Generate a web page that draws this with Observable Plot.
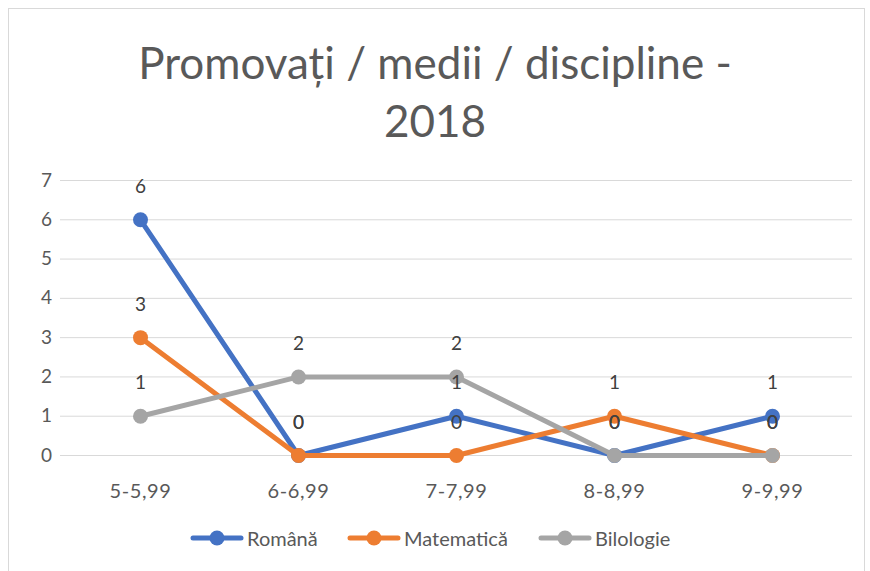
<!DOCTYPE html>
<html>
<head>
<meta charset="utf-8">
<script src="https://cdn.jsdelivr.net/npm/d3@7"></script>
<script src="https://cdn.jsdelivr.net/npm/@observablehq/plot@0.6"></script>
<style>
  html, body { margin: 0; padding: 0; background: #fff; width: 870px; height: 571px; overflow: hidden; font-family: Lato, "Open Sans", sans-serif; }
  #frame { position: absolute; left: 8px; top: 8px; width: 857px; height: 600px; border: 1px solid #d9d9d9; box-sizing: border-box; }
  #title { position: absolute; left: 0; top: 33px; width: 870px; text-align: center; font-size: 44px; line-height: 58px; color: #595959; }
  #chart { position: absolute; left: 0; top: 160px; }
  #legend { position: absolute; left: 0; top: 526px; width: 870px; height: 24px; }
  .item { position: absolute; top: 0; display: flex; align-items: center; font-size: 20px; color: #595959; }
  .item svg { margin-right: 3px; }
  .xax text { letter-spacing: 0.6px; }
</style>
</head>
<body>
<div id="frame"></div>
<div id="title">Promovați / medii / discipline -<br>2018</div>
<div id="chart"></div>
<div id="legend"></div>
<script>
const categories = ["5-5,99", "6-6,99", "7-7,99", "8-8,99", "9-9,99"];
const seriesNames = ["Română", "Matematică", "Bilologie"];
const romana = [6, 0, 1, 0, 1];
const matematica = [3, 0, 0, 1, 0];
const biologie = [1, 2, 2, 0, 0];
const colors = ["#4472C4", "#ED7D31", "#A5A5A5"];
const yTicks = [0, 1, 2, 3, 4, 5, 6, 7];

const seriesValues = [romana, matematica, biologie];
const data = seriesValues.flatMap((vals, s) =>
  vals.map((v, i) => ({ series: seriesNames[s], cat: categories[i], value: v }))
);

const marks = [
  Plot.gridY(yTicks, { stroke: "#d9d9d9", strokeOpacity: 1, strokeWidth: 1 }),
  Plot.axisY(yTicks, { tickSize: 0, tickPadding: 24, fontSize: 19, fill: "#595959", textAnchor: "middle", dx: 10 }),
  Plot.axisX({ tickSize: 0, tickPadding: 28, fontSize: 20, fill: "#595959", className: "xax" })
];
seriesNames.forEach((name, s) => {
  const d = data.filter(r => r.series === name);
  marks.push(Plot.line(d, { x: "cat", y: "value", stroke: colors[s], strokeWidth: 5 }));
  marks.push(Plot.dot(d, { x: "cat", y: "value", fill: colors[s], r: 7.5, stroke: null }));
});
marks.push(Plot.text(data, { x: "cat", y: "value", text: d => String(d.value), dy: -33, fontSize: 19, fill: "#404040" }));

const chart = Plot.plot({
  width: 870,
  height: 355,
  marginLeft: 60,
  marginRight: 18,
  marginTop: 20,
  marginBottom: 60,
  style: { fontFamily: "Lato, 'Open Sans', sans-serif", background: "transparent" },
  x: { type: "point", domain: categories, padding: 0.5, label: null },
  y: { domain: [0, 7], label: null, ticks: yTicks },
  marks
});
document.getElementById("chart").appendChild(chart);

const legendX = [190, 347, 538];
const legend = document.getElementById("legend");
seriesNames.forEach((name, s) => {
  const item = document.createElement("div");
  item.className = "item";
  item.style.left = legendX[s] + "px";
  item.innerHTML = `<svg width="54" height="24"><line x1="3" y1="12" x2="51" y2="12" stroke="${colors[s]}" stroke-width="5" stroke-linecap="round"/><circle cx="27" cy="12" r="7.5" fill="${colors[s]}"/></svg><span>${name}</span>`;
  legend.appendChild(item);
});
</script>
</body>
</html>
